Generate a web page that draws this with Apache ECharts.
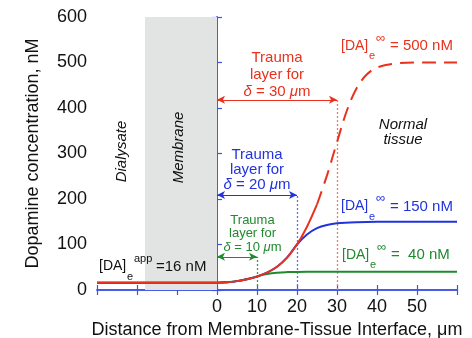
<!DOCTYPE html>
<html>
<head>
<meta charset="utf-8">
<script src="https://cdn.jsdelivr.net/npm/echarts@6/dist/echarts.min.js"></script>
<style>
  html, body { margin: 0; padding: 0; background: #fff; }
  #chart { width: 472px; height: 338px; }
</style>
</head>
<body>
<div id="chart"></div>
<script>
// Tick labels shown on the axes
const xTickLabels = [0, 10, 20, 30, 40, 50];
const yTickLabels = [0, 100, 200, 300, 400, 500, 600];

// Membrane extent (µm from the membrane-tissue interface)
const membraneRange = [-18, 0];

// Profile for trauma layer 30 µm: solid part, then dashed part
const xRedSolid = [-30, -10, 0, 2.5, 5, 7.5, 10, 12.5, 15, 17.5, 20, 22.5, 25];
const yRedSolid = [16, 16, 16, 17, 19.5, 23.5, 29.5, 38, 51, 71, 100, 139, 188];
const xRedDashed = [25, 27.5, 30, 32.5, 35, 37.5, 40, 45, 50, 55, 60];
const yRedDashed = [188, 252, 325, 395, 445, 474, 489, 498, 500, 500, 500];

// Profile for trauma layer 20 µm
const xBlue = [-30, -10, 0, 2.5, 5, 7.5, 10, 12.5, 15, 17.5, 20, 22.5, 25, 27.5, 30, 35, 40, 50, 60];
const yBlue = [16, 16, 16, 17, 19.5, 23.5, 29.5, 38, 51, 71, 100, 122, 136, 143, 146.5, 149, 150, 150, 150];

// Profile for trauma layer 10 µm
const xGreen = [-30, -10, 0, 2.5, 5, 7.5, 10, 12.5, 15, 17.5, 20, 25, 30, 40, 60];
const yGreen = [16, 16, 16, 17, 19.5, 24, 30, 35, 38, 39.3, 39.8, 40, 40, 40, 40];

// Trauma layer thicknesses and the heights of their arrows
const traumaDepth = [10, 20, 30];
const arrowLevel = [73, 209, 418];

// Far-field concentrations and the apparent dialysate value
const farField = [40, 150, 500];
const apparentValue = 16;

const RED = '#e8321e', BLUE = '#2233dd', GREEN = '#1f8a2e', AXIS = '#3f52e0';
const DOT_RED = '#f07868', DOT_BLUE = '#5a70f0', DOT_GREEN = '#3a9a4a';
const FONT = '"Liberation Sans", Arial, Helvetica, sans-serif';

const pairs = (xs, ys) => xs.map((x, i) => [x, ys[i]]);

function curve(name, xs, ys, color, dashed) {
  return {
    name, type: 'line', data: pairs(xs, ys),
    smooth: 0.35,
    showSymbol: false, symbol: 'none', silent: true,
    lineStyle: { color, width: 2, type: dashed ? [14, 8] : 'solid', cap: 'butt' },
    z: 5
  };
}

// Dotted depth marker and double-headed arrow for one trauma layer
function traumaMarks(i, color, dotColor) {
  const d = traumaDepth[i], h = arrowLevel[i];
  return [
    {
      type: 'line', data: [], silent: true, z: 4,
      markLine: {
        silent: true, symbol: 'none', animation: false,
        label: { show: false },
        lineStyle: { color: dotColor, width: 1.3, type: [2, 2] },
        data: [[{ coord: [d, 0] }, { coord: [d, h] }]]
      }
    },
    {
      type: 'line', data: [], silent: true, z: 4,
      markLine: {
        silent: true, symbol: ['arrow', 'arrow'], symbolSize: [6, 8], animation: false,
        label: { show: false },
        lineStyle: { color, width: 1.2, type: 'solid' },
        data: [[{ coord: [0, h] }, { coord: [d, h] }]]
      }
    }
  ];
}

const axisLine = { show: true, lineStyle: { color: AXIS, width: 1.5 } };
const axisTick = { show: true, inside: true, length: 5, lineStyle: { color: AXIS, width: 1.2 } };
const labelStyle = { color: '#111', fontSize: 18, fontFamily: FONT };

const chart = echarts.init(document.getElementById('chart'), null, { renderer: 'canvas' });

chart.setOption({
  animation: false,
  backgroundColor: '#fff',
  grid: { left: 97, right: 15, top: 17, bottom: 48, containLabel: false, outerBoundsMode: 'none' },
  xAxis: [
    {
      type: 'value', min: -30, max: 60, interval: 10, position: 'bottom',
      axisLine, axisTick, splitLine: { show: false },
      axisLabel: { ...labelStyle, margin: 8,
        formatter: v => xTickLabels.includes(v) ? String(v) : '' },
      name: 'Distance from Membrane-Tissue Interface, \u03bcm',
      nameLocation: 'middle', nameGap: 28,
      nameTextStyle: { color: '#111', fontSize: 18, fontFamily: FONT }
    },
    {
      type: 'value', min: -30, max: 60, interval: 10, position: 'top',
      axisLine, axisTick, splitLine: { show: false }, axisLabel: { show: false }
    }
  ],
  yAxis: [
    {
      type: 'value', min: 0, max: 600, interval: 100, position: 'left',
      axisLine, axisTick, splitLine: { show: false },
      axisLabel: { ...labelStyle, margin: 10,
        formatter: v => yTickLabels.includes(v) ? String(v) : '' },
      name: 'Dopamine concentration, nM',
      nameLocation: 'middle', nameGap: 55,
      nameTextStyle: { color: '#111', fontSize: 18, fontFamily: FONT }
    },
    {
      type: 'value', min: 0, max: 600, interval: 100, position: 'right',
      axisLine, axisTick, splitLine: { show: false }, axisLabel: { show: false }
    }
  ],
  series: [
    {
      type: 'line', data: [], silent: true, z: 1,
      markArea: {
        silent: true,
        itemStyle: { color: '#e2e3e3' },
        data: [[{ xAxis: membraneRange[0] }, { xAxis: membraneRange[1] }]]
      }
    },
    ...traumaMarks(0, GREEN, DOT_GREEN),
    ...traumaMarks(1, BLUE, DOT_BLUE),
    ...traumaMarks(2, RED, DOT_RED),
    curve('10 µm', xGreen, yGreen, GREEN, false),
    curve('20 µm', xBlue, yBlue, BLUE, false),
    curve('30 µm', xRedSolid, yRedSolid, RED, false),
    curve('30 µm far', xRedDashed, yRedDashed, RED, true)
  ]
});

// Text annotations
function txt(x, y, text, fill, size, extra) {
  return {
    type: 'text', x, y, silent: true, z: 20,
    style: Object.assign({
      text, fill, fontSize: size, fontFamily: FONT,
      align: 'left', verticalAlign: 'middle'
    }, extra || {})
  };
}

function traumaText(x, y, depth, color, size, lh) {
  const it = { fontStyle: 'italic', fontSize: size, fontFamily: FONT, fill: color, lineHeight: lh };
  return {
    type: 'text', x, y, silent: true, z: 20,
    style: {
      text: 'Trauma\nlayer for\n{i|\u03b4} = ' + depth + ' {i|\u03bc}m',
      fill: color, fontSize: size, fontFamily: FONT, lineHeight: lh,
      align: 'center', verticalAlign: 'middle',
      rich: { i: it }
    }
  };
}

// [DA]e with a superscript, followed by the value text
function daLabel(left, cy, sup, rest, color, supSize, restOffset) {
  return [
    txt(left, cy, '[DA]', color, 14),
    txt(left + 28, cy + 10, 'e', color, 11),
    txt(left + 35, cy - 8, sup, color, supSize),
    txt(left + restOffset, cy, rest, color, 15)
  ];
}

const graphics = [
  traumaText(277, 74.5, traumaDepth[2], RED, 15, 17),
  traumaText(257, 170, traumaDepth[1], BLUE, 15, 15),
  traumaText(252.5, 233.5, traumaDepth[0], GREEN, 13, 13.5),
  ...daLabel(341, 46, '\u221e', '= ' + farField[2] + ' nM', RED, 13, 49),
  ...daLabel(341, 206.5, '\u221e', '= ' + farField[1] + ' nM', BLUE, 13, 49),
  ...daLabel(342, 255, '\u221e', '=  ' + farField[0] + ' nM', GREEN, 13, 49),
  ...daLabel(99, 266.5, 'app', '=' + apparentValue + ' nM', '#111', 11, 57),
  txt(403, 132, 'Normal\ntissue', '#111', 15, { align: 'center', fontStyle: 'italic', lineHeight: 15 }),
  {
    type: 'text', x: 122, y: 151.5, rotation: Math.PI / 2, silent: true, z: 20,
    style: { text: 'Dialysate', fill: '#111', fontSize: 15, fontStyle: 'italic', fontFamily: FONT, align: 'center', verticalAlign: 'middle' }
  },
  {
    type: 'text', x: 179, y: 147.5, rotation: Math.PI / 2, silent: true, z: 20,
    style: { text: 'Membrane', fill: '#111', fontSize: 15, fontStyle: 'italic', fontFamily: FONT, align: 'center', verticalAlign: 'middle' }
  }
];

chart.setOption({ graphic: graphics });
</script>
</body>
</html>
